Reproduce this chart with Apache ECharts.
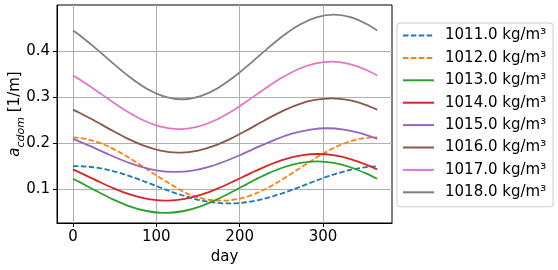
<!DOCTYPE html>
<html>
<head>
<meta charset="utf-8">
<script src="https://cdn.jsdelivr.net/npm/echarts@6/dist/echarts.min.js"></script>
<style>
html,body{margin:0;padding:0;background:#fff;}
#chart{width:558px;height:270px;}
</style>
</head>
<body>
<div id="chart"></div>
<script>
// Sample days (per curve) and a_cdom [1/m] values
const days1011 = [0, 5, 25, 45, 65, 85, 105, 125, 145, 165, 185, 190, 210, 230, 250, 270, 290, 310, 330, 350, 365];
const vals1011 = [0.1494, 0.1495, 0.1471, 0.1403, 0.1298, 0.1168, 0.1029, 0.0898, 0.0789, 0.0715, 0.0685, 0.0685, 0.0715, 0.0789, 0.0898, 0.1029, 0.1168, 0.1298, 0.1403, 0.1471, 0.1494];

const days1012 = [0, 17, 37, 57, 77, 97, 117, 137, 157, 177, 182, 202, 222, 242, 262, 282, 302, 322, 342, 362, 365];
const vals1012 = [0.2122, 0.2083, 0.1966, 0.1788, 0.1567, 0.1330, 0.1105, 0.0900, 0.0785, 0.0748, 0.0748, 0.0798, 0.0923, 0.1108, 0.1332, 0.1567, 0.1788, 0.1966, 0.2083, 0.2123, 0.2122];

const days1013 = [0, 8, 28, 48, 68, 88, 108, 113, 133, 153, 173, 193, 213, 233, 253, 273, 293, 313, 333, 353, 365];
const vals1013 = [0.1222, 0.1148, 0.0956, 0.0774, 0.0623, 0.0521, 0.0481, 0.0481, 0.0521, 0.0623, 0.0774, 0.0956, 0.1148, 0.1327, 0.1472, 0.1567, 0.1600, 0.1567, 0.1472, 0.1327, 0.1222];

const days1014 = [0, 9, 29, 49, 69, 89, 109, 114, 134, 154, 174, 194, 214, 234, 254, 274, 294, 314, 334, 354, 365];
const vals1014 = [0.1426, 0.1351, 0.1177, 0.1012, 0.0876, 0.0784, 0.0746, 0.0746, 0.0784, 0.0876, 0.1012, 0.1177, 0.1351, 0.1513, 0.1645, 0.1730, 0.1760, 0.1730, 0.1645, 0.1513, 0.1426];

const days1015 = [0, 20, 40, 60, 80, 100, 120, 125, 145, 165, 185, 205, 225, 245, 265, 285, 305, 325, 345, 365];
const vals1015 = [0.2088, 0.1936, 0.1774, 0.1619, 0.1492, 0.1405, 0.1370, 0.1370, 0.1405, 0.1492, 0.1619, 0.1774, 0.1936, 0.2088, 0.2212, 0.2292, 0.2320, 0.2292, 0.2212, 0.2088];

const days1016 = [0, 5, 25, 45, 65, 85, 105, 125, 130, 150, 170, 190, 210, 230, 250, 270, 290, 310, 330, 350, 365];
const vals1016 = [0.2725, 0.2682, 0.2494, 0.2291, 0.2100, 0.1941, 0.1834, 0.1791, 0.1791, 0.1834, 0.1941, 0.2100, 0.2291, 0.2494, 0.2682, 0.2836, 0.2935, 0.2970, 0.2935, 0.2836, 0.2725];

const days1017 = [0, 5, 25, 45, 65, 85, 105, 125, 130, 150, 170, 190, 210, 230, 250, 270, 290, 310, 330, 350, 365];
const vals1017 = [0.3468, 0.3412, 0.3176, 0.2925, 0.2686, 0.2488, 0.2354, 0.2301, 0.2301, 0.2354, 0.2488, 0.2686, 0.2925, 0.3176, 0.3412, 0.3603, 0.3727, 0.3770, 0.3727, 0.3603, 0.3468];

const days1018 = [0, 8, 28, 48, 68, 88, 108, 128, 133, 153, 173, 193, 213, 233, 253, 273, 293, 313, 333, 353, 365];
const vals1018 = [0.4445, 0.4341, 0.4047, 0.3732, 0.3433, 0.3185, 0.3018, 0.2951, 0.2951, 0.3018, 0.3185, 0.3433, 0.3732, 0.4047, 0.4341, 0.4580, 0.4736, 0.4790, 0.4736, 0.4580, 0.4445];

const seriesNames = ['1011.0 kg/m³', '1012.0 kg/m³', '1013.0 kg/m³', '1014.0 kg/m³', '1015.0 kg/m³', '1016.0 kg/m³', '1017.0 kg/m³', '1018.0 kg/m³'];
const seriesDays = [days1011, days1012, days1013, days1014, days1015, days1016, days1017, days1018];
const seriesValues = [vals1011, vals1012, vals1013, vals1014, vals1015, vals1016, vals1017, vals1018];
const seriesColors = ['#1f77b4', '#ff7f0e', '#2ca02c', '#d62728', '#9467bd', '#8c564b', '#e377c2', '#7f7f7f'];
const seriesDashed = [true, true, false, false, false, false, false, false];

const xTicks = [0, 100, 200, 300];
const yTicks = [0.1, 0.2, 0.3, 0.4];

const FONT = 'DejaVu Sans';
const chart = echarts.init(document.getElementById('chart'), null, {renderer: 'canvas'});

const series = seriesNames.map((name, i) => ({
  name: name,
  type: 'line',
  data: seriesDays[i].map((d, j) => [d, seriesValues[i][j]]),
  smooth: 0.33,
  symbol: 'none',
  showSymbol: false,
  animation: false,
  lineStyle: {
    color: seriesColors[i],
    width: 1.8,
    type: seriesDashed[i] ? [5.5, 2.4] : 'solid'
  },
  itemStyle: {color: seriesColors[i]}
}));

chart.setOption({
  animation: false,
  backgroundColor: '#ffffff',
  grid: {
    left: 57, top: 5, width: 335, height: 218,
    containLabel: false,
    outerBoundsMode: 'none',
    show: true, borderColor: '#000000', borderWidth: 1, backgroundColor: 'transparent'
  },
  xAxis: {
    type: 'value',
    min: -19.2, max: 382.8,
    name: 'day',
    nameLocation: 'middle',
    nameGap: 27,
    nameMoveOverlap: false,
    nameTextStyle: {fontFamily: FONT, fontSize: 15, color: '#000'},
    axisLine: {show: true, onZero: false, lineStyle: {color: '#000', width: 1}},
    axisTick: {show: true, length: 4, inside: false, customValues: xTicks, lineStyle: {color: '#000', width: 1}},
    axisLabel: {show: true, customValues: xTicks, margin: 7, fontFamily: FONT, fontSize: 15, color: '#000'},
    splitLine: {show: true, lineStyle: {color: '#b0b0b0', width: 1}}
  },
  yAxis: {
    type: 'value',
    min: 0.026, max: 0.5,
    name: '{a|a}{s|cdom}{n| [1/m]}',
    nameLocation: 'middle',
    nameGap: 30,
    nameRotate: 90,
    nameMoveOverlap: false,
    nameTextStyle: {
      fontFamily: FONT, fontSize: 15, color: '#000',
      rich: {
        a: {fontFamily: FONT, fontSize: 15, fontStyle: 'italic', color: '#000', padding: [0, 0, 4, 0], verticalAlign: 'bottom'},
        s: {fontFamily: FONT, fontSize: 11, fontStyle: 'italic', color: '#000', verticalAlign: 'bottom'},
        n: {fontFamily: FONT, fontSize: 15, color: '#000', padding: [0, 0, 4, 0], verticalAlign: 'bottom'}
      }
    },
    axisLine: {show: true, onZero: false, lineStyle: {color: '#000', width: 1}},
    axisTick: {show: true, length: 4, inside: false, customValues: yTicks, lineStyle: {color: '#000', width: 1}},
    axisLabel: {show: true, customValues: yTicks, margin: 7, fontFamily: FONT, fontSize: 15, color: '#000',
      formatter: v => v.toFixed(1)},
    splitLine: {show: true, lineStyle: {color: '#b0b0b0', width: 1}}
  },
  legend: {
    orient: 'vertical',
    left: 397, top: 23,
    padding: [5, 7, 7, 5],
    itemWidth: 31,
    itemHeight: 15,
    itemGap: 7.4,
    backgroundColor: 'rgba(255,255,255,0.8)',
    borderColor: '#cccccc',
    borderWidth: 1,
    borderRadius: 3,
    itemStyle: {opacity: 0},
    lineStyle: {width: 2},
    textStyle: {fontFamily: FONT, fontSize: 15, color: '#000', padding: [0, 0, 0, 6]},
    data: seriesNames
  },
  series: series
});
</script>
</body>
</html>
